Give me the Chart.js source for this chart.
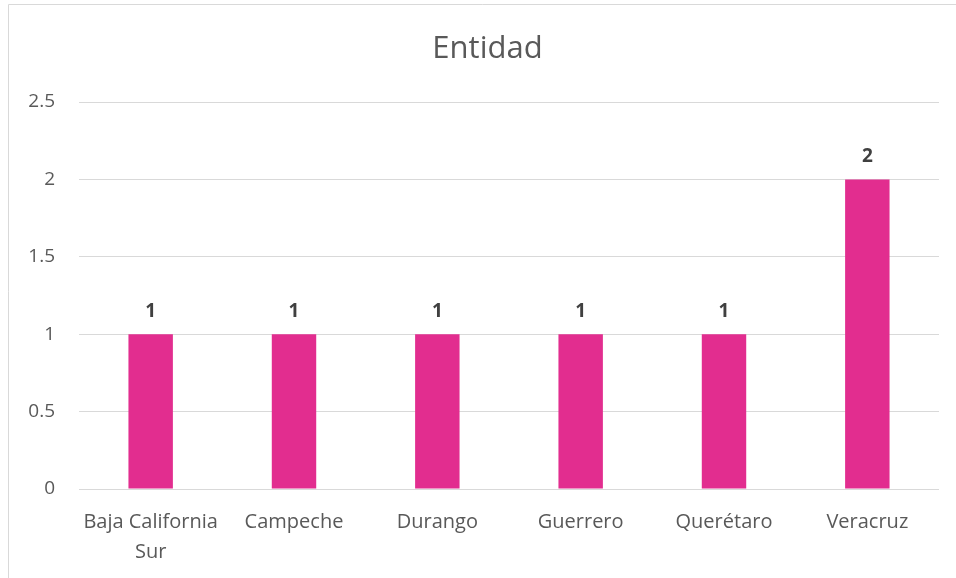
<!DOCTYPE html>
<html>
<head>
<meta charset="utf-8">
<script src="https://cdn.jsdelivr.net/npm/chart.js@4"></script>
<style>
  html, body { margin: 0; padding: 0; background: #fff; }
  #wrap { position: absolute; left: 0; top: 0; width: 956px; height: 578px; }
</style>
</head>
<body>
<div id="wrap"><canvas id="chart" width="956" height="578"></canvas></div>
<script>
// data
const chartTitle = 'Entidad';
const categories = [['Baja California', 'Sur'], 'Campeche', 'Durango', 'Guerrero', 'Querétaro', 'Veracruz'];
const values = [1, 1, 1, 1, 1, 2];
const yMin = 0;
const yMax = 2.5;
const yStep = 0.5;

const FONT = '"Open Sans", "Noto Sans", sans-serif';
const TEXT_COLOR = '#595959';
const GRID_COLOR = '#d9d9d9';
const BAR_COLOR = '#e22d8f';

// outer frame of the chart box (left + top edge visible) and the title,
// which is centred on the box, not on the window
const frame = {
    id: 'frame',
    beforeDraw(chart) {
        const ctx = chart.ctx;
        ctx.save();
        ctx.strokeStyle = GRID_COLOR;
        ctx.lineWidth = 1;
        ctx.beginPath();
        ctx.moveTo(8.5, chart.height);
        ctx.lineTo(8.5, 4.5);
        ctx.lineTo(chart.width, 4.5);
        ctx.stroke();

        ctx.font = '31px ' + FONT;
        ctx.fillStyle = TEXT_COLOR;
        ctx.textAlign = 'center';
        ctx.textBaseline = 'alphabetic';
        ctx.fillText(chartTitle, 487.5, 58);
        ctx.restore();
    }
};

// value labels above bars
const valueLabels = {
    id: 'valueLabels',
    afterDatasetsDraw(chart) {
        const ctx = chart.ctx;
        const meta = chart.getDatasetMeta(0);
        ctx.save();
        ctx.font = 'bold 19px ' + FONT;
        ctx.fillStyle = '#404040';
        ctx.textAlign = 'center';
        ctx.textBaseline = 'alphabetic';
        meta.data.forEach((bar, i) => {
            ctx.fillText(String(values[i]), bar.x, bar.y - 17);
        });
        ctx.restore();
    }
};

new Chart(document.getElementById('chart').getContext('2d'), {
    type: 'bar',
    data: {
        labels: categories,
        datasets: [{
            data: values,
            backgroundColor: BAR_COLOR,
            borderWidth: 0,
            categoryPercentage: 1,
            barPercentage: 0.31
        }]
    },
    options: {
        responsive: false,
        animation: false,
        layout: { padding: { left: 0, right: 17, top: 102, bottom: 0 } },
        plugins: {
            legend: { display: false },
            tooltip: { enabled: false },
            title: { display: false }
        },
        scales: {
            x: {
                grid: { display: false },
                border: { display: false },
                ticks: {
                    color: TEXT_COLOR,
                    font: { family: FONT, size: 20, lineHeight: 1.5 },
                    maxRotation: 0,
                    autoSkip: false,
                    padding: 10
                },
                afterFit(scale) { scale.height = 89; }
            },
            y: {
                min: yMin,
                max: yMax,
                grid: { color: GRID_COLOR, lineWidth: 1, drawTicks: false },
                border: { display: false },
                ticks: {
                    stepSize: yStep,
                    color: TEXT_COLOR,
                    font: { family: FONT, size: 19 },
                    padding: 24,
                    callback: (v) => String(v)
                },
                afterFit(scale) { scale.width = 79; }
            }
        }
    },
    plugins: [frame, valueLabels]
});
</script>
</body>
</html>
